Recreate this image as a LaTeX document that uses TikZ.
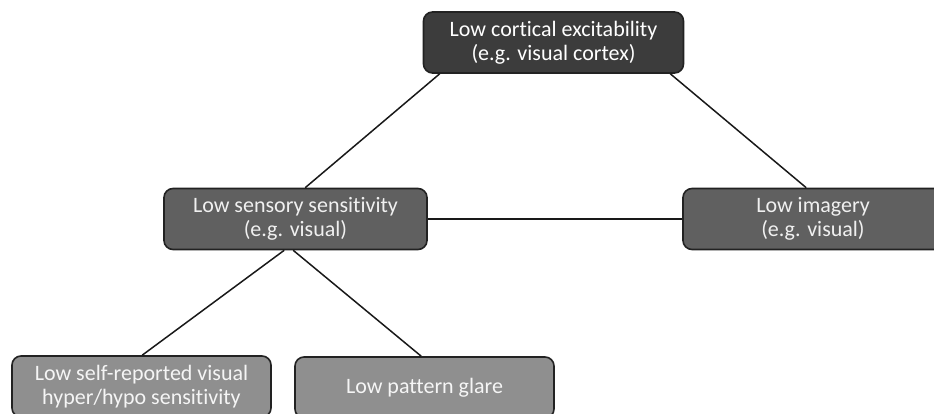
\documentclass[tikz,border=0pt]{standalone}
\usepackage{fontspec}
\setmainfont{Carlito}[Ligatures={NoCommon}]
\usetikzlibrary{calc}
\definecolor{topfill}{HTML}{3C3C3C}
\definecolor{midfill}{HTML}{606060}
\definecolor{lowfill}{HTML}{8F8F8F}
\definecolor{edge}{HTML}{222222}
\tikzset{
  box/.style={draw=edge, line width=1.6pt, rounded corners=9pt, minimum width=260pt, minimum height=61pt,
    inner sep=0pt, align=center, font=\fontsize{22}{24}\selectfont},
  topbox/.style={box, fill=topfill, text=white},
  midbox/.style={box, fill=midfill, text=white!94!black},
  lowbox/.style={box, fill=lowfill, text=white!96!black},
  link/.style={line width=1.5pt, draw=black!90}
}
\begin{document}
\begin{tikzpicture}[x=1pt,y=-1pt]
\useasboundingbox (0,0) rectangle (934,414);
\node[topbox] (top) at (553.5,42.5) {Low cortical excitability\\(e.g. visual cortex)};
\node[midbox, minimum width=263pt] (sens) at (295.5,219) {Low sensory sensitivity\\(e.g. visual)};
\node[midbox] (imag) at (813,219) {Low imagery\\(e.g. visual)};
\node[lowbox, minimum width=259pt] (self) at (141.5,386.5) {Low self-reported visual\\hyper/hypo sensitivity};
\node[lowbox, minimum width=259pt] (glare) at (424.5,387.5) {Low pattern glare};
\draw[link] ($(top.south west)+(17,0)$) -- ($(sens.north west)+(142,0)$);
\draw[link] ($(top.south east)+(-14,0)$) -- ($(imag.north west)+(124,0)$);
\draw[link] (sens.east) -- (imag.west);
\draw[link] ($(sens.south west)+(121,0)$) -- ($(self.north west)+(131,0)$);
\draw[link] ($(sens.south west)+(130,0)$) -- ($(glare.north west)+(127,0)$);
\end{tikzpicture}
\end{document}
